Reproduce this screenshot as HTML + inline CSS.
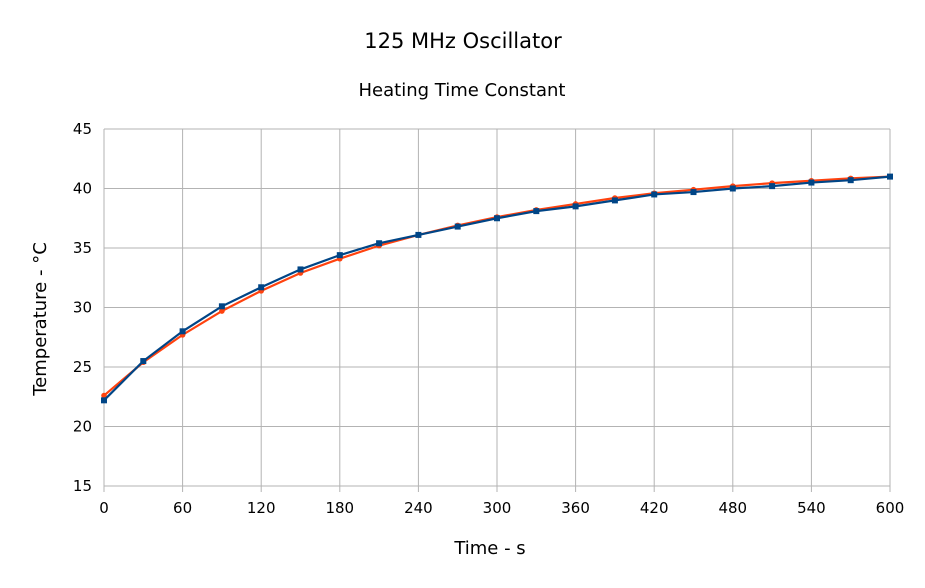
<!DOCTYPE html>
<html><head><meta charset="utf-8"><style>
html,body{margin:0;padding:0;background:#fff;}
svg text{font-family:"DejaVu Sans",sans-serif;}
</style></head><body>
<svg id="c" width="925" height="583" xmlns="http://www.w3.org/2000/svg">
<rect width="925" height="583" fill="#fff"/>
<text x="463" y="48" font-size="21" text-anchor="middle">125 MHz Oscillator</text>
<text x="462" y="96" font-size="18" text-anchor="middle">Heating Time Constant</text>
<text x="490" y="554" font-size="18" text-anchor="middle">Time - s</text>
<text transform="translate(46,319) rotate(-90)" font-size="18" text-anchor="middle">Temperature - °C</text>
<g id="g"></g>
</svg>
<script>
const g=document.getElementById('g');
const X0=104,X1=890,Y0=486,Y1=129;
const sx=v=>X0+(X1-X0)*v/600, sy=v=>Y0-(Y0-Y1)*(v-15)/30;
let h='';
for(let v=15;v<=45;v+=5){const y=sy(v);h+=`<line x1="${X0}" x2="${X1}" y1="${y}" y2="${y}" stroke="#b3b3b3" stroke-width="1"/>`;
h+=`<text x="${X0-12}" y="${y+5}" font-size="15" text-anchor="end">${v}</text>`;}
for(let v=0;v<=600;v+=60){const x=sx(v);h+=`<line x1="${x}" x2="${x}" y1="${Y1}" y2="${Y0+6}" stroke="#b3b3b3" stroke-width="1"/>`;
h+=`<text x="${x}" y="${Y0+27}" font-size="15" text-anchor="middle">${v}</text>`;}
const blue=[22.2,25.5,28.0,30.1,31.7,33.2,34.4,35.4,36.1,36.8,37.5,38.1,38.5,39.0,39.5,39.7,40.0,40.2,40.5,40.7,41.0];
const ora=[22.6,25.4,27.7,29.7,31.4,32.9,34.1,35.2,36.1,36.9,37.6,38.2,38.7,39.2,39.6,39.9,40.2,40.45,40.65,40.85,41.0];
const pts=a=>a.map((v,i)=>sx(i*30)+','+sy(v)).join(' ');
h+=`<polyline points="${pts(ora)}" fill="none" stroke="#ff420e" stroke-width="2.2"/>`;
ora.forEach((v,i)=>{h+=`<circle cx="${sx(i*30)}" cy="${sy(v)}" r="2.8" fill="#ff420e"/>`;});
h+=`<polyline points="${pts(blue)}" fill="none" stroke="#004586" stroke-width="2.2"/>`;
blue.forEach((v,i)=>{h+=`<rect x="${sx(i*30)-3}" y="${sy(v)-3}" width="6" height="6" fill="#004586"/>`;});
g.innerHTML=h;
</script>
</body></html>
